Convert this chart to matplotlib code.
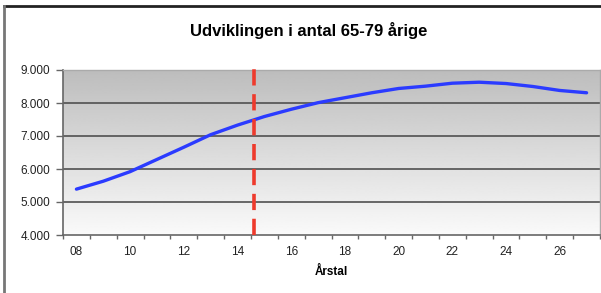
import numpy as np
import matplotlib
matplotlib.use('Agg')
import matplotlib.pyplot as plt
from matplotlib.lines import Line2D

plt.rcParams['font.family'] = ['Liberation Sans', 'DejaVu Sans']

years = ['08', '09', '10', '11', '12', '13', '14', '15', '16', '17',
         '18', '19', '20', '21', '22', '23', '24', '25', '26', '27']
antal = [5390, 5630, 5920, 6290, 6660, 7040, 7330, 7590, 7810, 8010,
         8160, 8310, 8440, 8510, 8600, 8630, 8590, 8500, 8380, 8310]
skillelinje = 6.6   # position of the red dashed line (between 14 and 15)
yticks = [4000, 5000, 6000, 7000, 8000, 9000]
ytick_labels = ['4.000', '5.000', '6.000', '7.000', '8.000', '9.000']

fig = plt.figure(figsize=(6.01, 2.93), dpi=100)
fig.patch.set_facecolor('white')
ax = fig.add_axes([63 / 601, 1 - 235 / 293, 537 / 601, 165 / 293])

x = np.arange(len(years))
ax.set_xlim(-0.5, len(years) - 0.5)
ax.set_ylim(4000, 9000)

# gradient background of the plot area
grad = np.linspace(0.98, 0.74, 256).reshape(-1, 1)
ax.imshow(grad, cmap='gray', vmin=0, vmax=1, aspect='auto',
          extent=[-0.5, len(years) - 0.5, 4000, 9000], origin='lower', zorder=0)

for v in yticks[1:]:
    ax.axhline(v, color='#505050', lw=1.2, zorder=1)

ax.plot(x, antal, color='#2b3bff', lw=2.4, solid_capstyle='round',
        solid_joinstyle='round', zorder=3)
ax.axvline(skillelinje, ymax=1.02, color='#ee3a2c', lw=2.6,
           ls=(0, (4.5, 2.4)), zorder=4, clip_on=False)

ax.set_yticks(yticks)
ax.set_yticklabels(ytick_labels, fontsize=8.5, color='#222222')
ax.set_xticks(x[::2])
ax.set_xticklabels(years[::2], fontsize=8.5, color='#222222')
ax.set_xticks(np.arange(-0.5, len(years)), minor=True)
ax.tick_params(axis='x', which='major', length=0, pad=8)
ax.tick_params(axis='x', which='minor', length=3, color='#666666', width=1)
ax.tick_params(axis='y', length=5, color='#666666', width=1, pad=4)

for side in ['left', 'bottom']:
    ax.spines[side].set_color('#666666')
    ax.spines[side].set_linewidth(1.2)
for side in ['top', 'right']:
    ax.spines[side].set_color('#aaaaaa')
    ax.spines[side].set_linewidth(1)

ax.set_xlabel('Årstal', fontsize=8.5, fontweight='bold', labelpad=6)
fig.text(0.513, 0.895, 'Udviklingen i antal 65-79 årige', fontsize=12,
         fontweight='bold', ha='center', va='center')

# outer chart frame
fig.add_artist(Line2D([4 / 601, 1], [1 - 6 / 293, 1 - 6 / 293],
                      transform=fig.transFigure, color='#222222', lw=2))
fig.add_artist(Line2D([4 / 601, 4 / 601], [0, 1 - 6 / 293],
                      transform=fig.transFigure, color='#777777', lw=2))

fig.savefig('out.png', dpi=100)
